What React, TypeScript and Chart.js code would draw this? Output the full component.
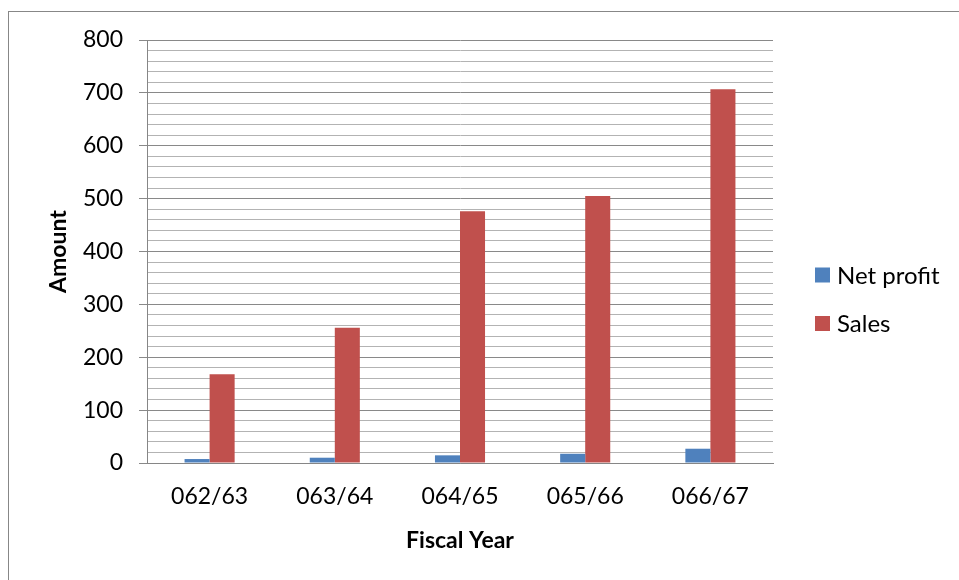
import React, { useEffect, useRef } from "react";
import { Chart, registerables } from "chart.js";

Chart.register(...registerables);

const categories = ["062/63", "063/64", "064/65", "065/66", "066/67"];
const netProfit = [7.5, 10, 14.5, 17.5, 27];
const sales = [168, 256, 476, 505, 707];
const seriesLabels = ["Net profit", "Sales"];
const seriesColors = ["#4F81BD", "#C0504D"];

const FONT = "Lato, 'Noto Sans', sans-serif";

const legendPlugin = {
  id: "sideLegend",
  afterDraw(chart: any) {
    const ctx = chart.ctx;
    ctx.save();
    ctx.font = `24px ${FONT}`;
    ctx.textBaseline = "middle";
    ctx.textAlign = "left";
    chart.data.datasets.forEach((ds: any, i: number) => {
      const cy = 275 + i * 48.5;
      ctx.fillStyle = ds.backgroundColor;
      ctx.fillRect(815, cy - 7.5, 15, 15);
      ctx.fillStyle = "#000";
      ctx.fillText(ds.label, 837, cy + 1);
    });
    ctx.restore();
  },
};

export default function App() {
  const ref = useRef<HTMLCanvasElement>(null);
  useEffect(() => {
    if (!ref.current) return;
    const chart = new Chart(ref.current, {
      type: "bar",
      data: {
        labels: categories,
        datasets: [
          { label: seriesLabels[0], data: netProfit, backgroundColor: seriesColors[0] },
          { label: seriesLabels[1], data: sales, backgroundColor: seriesColors[1] },
        ],
      },
      plugins: [legendPlugin],
      options: {
        responsive: false,
        animation: false,
        layout: { padding: { top: 40, right: 186, left: 0, bottom: 0 } },
        plugins: { legend: { display: false }, tooltip: { enabled: false } },
        datasets: { bar: { categoryPercentage: 0.4, barPercentage: 1.0 } },
        scales: {
          x: {
            grid: { display: false, drawTicks: false },
            border: { display: true, color: "#868686", width: 1 },
            ticks: { color: "#000", font: { family: FONT, size: 23 }, padding: 20, maxRotation: 0 },
            title: {
              display: true,
              text: "Fiscal Year",
              color: "#000",
              font: { family: FONT, size: 23, weight: "bold" },
              padding: { top: 0, bottom: 26 },
            },
            afterFit(scale: any) {
              scale.height = 117;
            },
          },
          y: {
            min: 0,
            max: 800,
            grid: {
              color: (c: any) => (c.tick && c.tick.value % 100 === 0 ? "#898989" : "#b3b3b3"),
              tickColor: (c: any) => (c.tick && c.tick.value % 100 === 0 ? "#898989" : "rgba(0,0,0,0)"),
              tickLength: 8,
              lineWidth: 1,
            },
            border: { display: true, color: "#868686", width: 1 },
            ticks: {
              stepSize: 20,
              autoSkip: false,
              color: "#000",
              padding: 16,
              font: { family: FONT, size: 23 },
              callback: (v: any) => (Number(v) % 100 === 0 ? String(v) : ""),
            },
            title: {
              display: true,
              text: "Amount",
              color: "#000",
              font: { family: FONT, size: 23, weight: "bold" },
              padding: { top: 45, bottom: 0 },
            },
            afterFit(scale: any) {
              scale.width = 147;
            },
          },
        },
      },
    });
    return () => chart.destroy();
  }, []);

  return (
    <div style={{ position: "fixed", left: 0, top: 0, width: 959, height: 580, overflow: "hidden", background: "#fff" }}>
      <div
        style={{
          position: "absolute",
          left: 8,
          top: 11,
          width: 951,
          height: 569,
          borderLeft: "1px solid #878787",
          borderTop: "1px solid #878787",
          boxSizing: "border-box",
        }}
      />
      <canvas ref={ref} width={959} height={580} style={{ position: "absolute", left: 0, top: 0 }} />
    </div>
  );
}
